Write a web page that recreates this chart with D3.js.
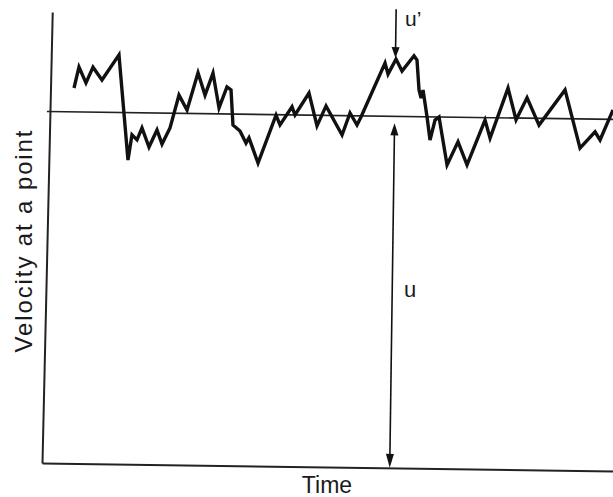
<!DOCTYPE html>
<html>
<head>
<meta charset="utf-8">
<script src="https://cdn.jsdelivr.net/npm/d3@7"></script>
<style>
  html, body { margin: 0; padding: 0; background: #fff; }
  svg { display: block; }
  text { font-family: "Liberation Sans", Arial, sans-serif; fill: #1a1a1a; }
</style>
</head>
<body>
<svg id="chart" width="613" height="497"></svg>
<script>
// Instantaneous velocity at a point in turbulent flow (arbitrary units, mean = 100)
const time = [
  4.68, 5.50, 6.76, 7.95, 9.55, 12.46, 14.29, 14.93, 15.82, 16.66,
  17.93, 19.29, 20.20, 21.56, 23.05, 24.49, 26.32, 27.60, 28.94, 30.08,
  31.42, 32.13, 32.56, 33.80, 34.88, 35.39, 37.03, 40.06, 40.78, 42.84,
  43.38, 45.77, 47.25, 48.78, 51.65, 52.99, 54.24, 54.92, 58.99, 59.54,
  60.90, 61.98, 64.04, 64.57, 65.00, 65.37, 65.70, 66.46, 67.04, 67.87,
  68.56, 70.08, 71.94, 73.57, 76.61, 77.53, 80.55, 82.03, 83.90, 86.06,
  90.52, 93.28, 95.87, 96.76, 98.96
];
const velocity = [
  106.8, 112.8, 108.3, 112.8, 109.2, 116.4, 86.5, 93.7, 92.3, 95.7,
  90.3, 95.2, 91.2, 95.8, 105.2, 101.0, 111.6, 105.3, 111.6, 101.7,
  107.7, 106.9, 96.9, 95.2, 91.8, 93.3, 86.2, 99.9, 97.1, 102.3,
  100.0, 106.3, 97.0, 102.7, 94.5, 100.8, 97.4, 99.7, 115.1, 112.0,
  116.3, 112.9, 117.3, 116.1, 107.6, 105.3, 107.6, 100.0, 93.4, 99.1,
  100.0, 86.4, 93.0, 86.5, 99.3, 94.2, 108.5, 99.5, 105.8, 98.1,
  108.2, 91.7, 96.4, 94.1, 102.7
];
const meanVelocity = 100;      // u
const arrowTime = 60.8;        // where u and u' are marked
const fluctuationTop = 130.5;  // start of the u' pointer
const fluctuationPeak = 116.3; // velocity at the marked instant

const labels = { x: "Time", y: "Velocity at a point", mean: "u", fluct: "u\u2019" };

const svg = d3.select("#chart");

const x = d3.scaleLinear().domain([0, 100]).range([42, 614]);
const y = d3.scaleLinear().domain([0, 128.3]).range([463, 12]);

// the figure sits very slightly tilted on the page
const plot = svg.append("g")
  .attr("transform", `rotate(0.8, ${x(0)}, ${y(0)})`);

// axes: bare lines, no ticks (the vertical one leans a touch further)
const lean = -0.5;
const xAxis = plot.append("g")
  .attr("transform", `translate(0,${y(0)})`)
  .call(d3.axisBottom(x).tickValues([]).tickSizeOuter(0));
const yAxis = plot.append("g")
  .attr("transform", `translate(${x(0) - y(0) * Math.tan(lean * Math.PI / 180)},0) skewX(${lean})`)
  .call(d3.axisLeft(y).tickValues([]).tickSizeOuter(0));
[xAxis, yAxis].forEach(g => g.select(".domain")
  .attr("stroke", "#222").attr("stroke-width", 2));

// mean velocity line
plot.append("line")
  .attr("x1", x(0)).attr("x2", x(100))
  .attr("y1", y(meanVelocity)).attr("y2", y(meanVelocity))
  .attr("stroke", "#222").attr("stroke-width", 1.7);

// fluctuating velocity trace
const pts = time.map((t, i) => [t, velocity[i]]);
plot.append("path")
  .datum(pts)
  .attr("fill", "none")
  .attr("stroke", "#111")
  .attr("stroke-width", 3.4)
  .attr("stroke-linejoin", "miter")
  .attr("stroke-miterlimit", 4)
  .attr("d", d3.line().x(d => x(d[0])).y(d => y(d[1])));

// arrowhead helper: filled triangle with tip at (tx, ty) pointing along dir (+1 down, -1 up)
function head(tx, ty, dir, len, half) {
  return `M${tx},${ty} L${tx - half},${ty - dir * len} L${tx + half},${ty - dir * len} Z`;
}

const ax = x(arrowTime);

// u : double arrow from the axis up to the mean line
const uTop = y(meanVelocity) + 7;
const uBot = y(0);
plot.append("line")
  .attr("x1", ax).attr("x2", ax)
  .attr("y1", uTop + 8).attr("y2", uBot - 10)
  .attr("stroke", "#111").attr("stroke-width", 1.6);
plot.append("path").attr("d", head(ax, uTop, -1, 12, 4)).attr("fill", "#111");
plot.append("path").attr("d", head(ax, uBot, 1, 14, 4)).attr("fill", "#111");

// u' : arrow down onto the trace
const fTop = y(fluctuationTop);
const fTip = y(fluctuationPeak) - 1;
plot.append("line")
  .attr("x1", ax).attr("x2", ax)
  .attr("y1", fTop).attr("y2", fTip - 8)
  .attr("stroke", "#111").attr("stroke-width", 1.6);
plot.append("path").attr("d", head(ax, fTip, 1, 11, 4)).attr("fill", "#111");

// labels
svg.append("text")
  .attr("x", 327).attr("y", 493)
  .attr("text-anchor", "middle")
  .attr("font-size", 23)
  .text(labels.x);

svg.append("text")
  .attr("transform", `translate(32,${241.5}) rotate(-90)`)
  .attr("text-anchor", "middle")
  .attr("font-size", 24)
  .attr("textLength", 222)
  .attr("lengthAdjust", "spacing")
  .text(labels.y);

svg.append("text")
  .attr("x", 404).attr("y", 297)
  .attr("font-size", 22)
  .text(labels.mean);

svg.append("text")
  .attr("x", 405).attr("y", 26)
  .attr("font-size", 21)
  .text(labels.fluct);
</script>
</body>
</html>
